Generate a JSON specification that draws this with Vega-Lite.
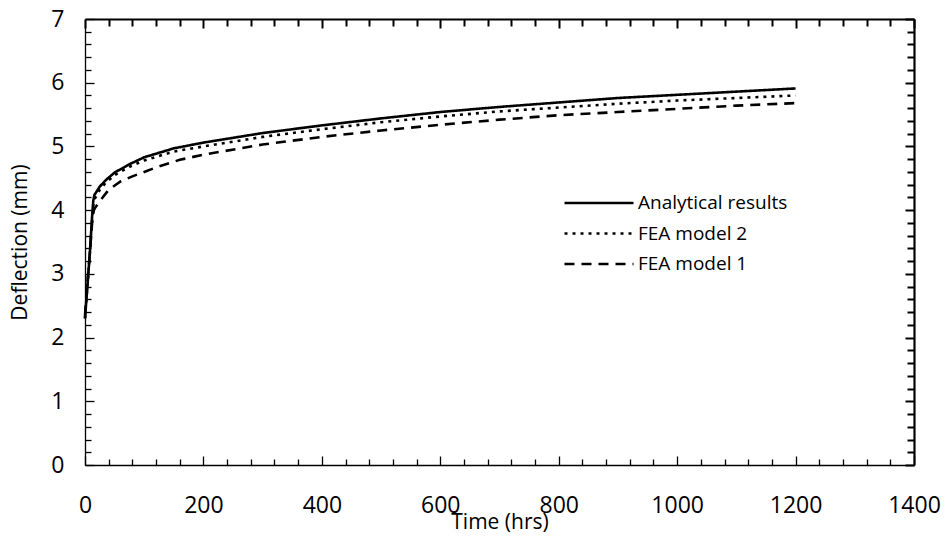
{
  "$schema": "https://vega.github.io/schema/vega-lite/v6.json",
  "autosize": {"type": "none"},
  "padding": {"left": 85, "top": 19, "right": 33, "bottom": 79},
  "width": 829,
  "height": 446,
  "background": "white",
  "config": {
    "view": {"stroke": null},
    "font": "Open Sans",
    "axis": {"grid": false, "domainColor": "black", "tickColor": "black", "labelColor": "black", "titleColor": "black", "labelFont": "Open Sans", "titleFont": "Open Sans", "titleFontWeight": "normal"}
  },
  "data": {"values": [
    {"series": "Analytical results", "t": 0, "v": 2.3},
    {"series": "Analytical results", "t": 4, "v": 2.8},
    {"series": "Analytical results", "t": 8, "v": 3.3},
    {"series": "Analytical results", "t": 12, "v": 3.9},
    {"series": "Analytical results", "t": 14, "v": 4.15},
    {"series": "Analytical results", "t": 16, "v": 4.24},
    {"series": "Analytical results", "t": 25, "v": 4.37},
    {"series": "Analytical results", "t": 35, "v": 4.47},
    {"series": "Analytical results", "t": 50, "v": 4.59},
    {"series": "Analytical results", "t": 75, "v": 4.72},
    {"series": "Analytical results", "t": 100, "v": 4.83},
    {"series": "Analytical results", "t": 150, "v": 4.97},
    {"series": "Analytical results", "t": 200, "v": 5.06},
    {"series": "Analytical results", "t": 300, "v": 5.21},
    {"series": "Analytical results", "t": 400, "v": 5.33},
    {"series": "Analytical results", "t": 500, "v": 5.44},
    {"series": "Analytical results", "t": 600, "v": 5.54},
    {"series": "Analytical results", "t": 700, "v": 5.62},
    {"series": "Analytical results", "t": 800, "v": 5.69},
    {"series": "Analytical results", "t": 900, "v": 5.76},
    {"series": "Analytical results", "t": 1000, "v": 5.81},
    {"series": "Analytical results", "t": 1100, "v": 5.86},
    {"series": "Analytical results", "t": 1200, "v": 5.91},
    {"series": "FEA model 2", "t": 0, "v": 2.3},
    {"series": "FEA model 2", "t": 4, "v": 2.8},
    {"series": "FEA model 2", "t": 8, "v": 3.3},
    {"series": "FEA model 2", "t": 12, "v": 3.85},
    {"series": "FEA model 2", "t": 14, "v": 4.08},
    {"series": "FEA model 2", "t": 16, "v": 4.17},
    {"series": "FEA model 2", "t": 25, "v": 4.32},
    {"series": "FEA model 2", "t": 35, "v": 4.43},
    {"series": "FEA model 2", "t": 50, "v": 4.55},
    {"series": "FEA model 2", "t": 75, "v": 4.68},
    {"series": "FEA model 2", "t": 100, "v": 4.78},
    {"series": "FEA model 2", "t": 150, "v": 4.92},
    {"series": "FEA model 2", "t": 200, "v": 5.0},
    {"series": "FEA model 2", "t": 300, "v": 5.15},
    {"series": "FEA model 2", "t": 400, "v": 5.27},
    {"series": "FEA model 2", "t": 500, "v": 5.38},
    {"series": "FEA model 2", "t": 600, "v": 5.47},
    {"series": "FEA model 2", "t": 700, "v": 5.55},
    {"series": "FEA model 2", "t": 800, "v": 5.61},
    {"series": "FEA model 2", "t": 900, "v": 5.67},
    {"series": "FEA model 2", "t": 1000, "v": 5.72},
    {"series": "FEA model 2", "t": 1100, "v": 5.76},
    {"series": "FEA model 2", "t": 1200, "v": 5.8},
    {"series": "FEA model 1", "t": 0, "v": 2.35},
    {"series": "FEA model 1", "t": 4, "v": 2.85},
    {"series": "FEA model 1", "t": 8, "v": 3.3},
    {"series": "FEA model 1", "t": 12, "v": 3.8},
    {"series": "FEA model 1", "t": 15, "v": 4.0},
    {"series": "FEA model 1", "t": 18, "v": 4.05},
    {"series": "FEA model 1", "t": 25, "v": 4.14},
    {"series": "FEA model 1", "t": 40, "v": 4.32},
    {"series": "FEA model 1", "t": 60, "v": 4.45},
    {"series": "FEA model 1", "t": 80, "v": 4.53},
    {"series": "FEA model 1", "t": 100, "v": 4.6},
    {"series": "FEA model 1", "t": 120, "v": 4.67},
    {"series": "FEA model 1", "t": 160, "v": 4.79},
    {"series": "FEA model 1", "t": 200, "v": 4.87},
    {"series": "FEA model 1", "t": 300, "v": 5.03},
    {"series": "FEA model 1", "t": 400, "v": 5.15},
    {"series": "FEA model 1", "t": 500, "v": 5.25},
    {"series": "FEA model 1", "t": 600, "v": 5.34},
    {"series": "FEA model 1", "t": 700, "v": 5.42},
    {"series": "FEA model 1", "t": 800, "v": 5.49},
    {"series": "FEA model 1", "t": 900, "v": 5.54},
    {"series": "FEA model 1", "t": 1000, "v": 5.59},
    {"series": "FEA model 1", "t": 1100, "v": 5.64},
    {"series": "FEA model 1", "t": 1200, "v": 5.68}
  ]},
  "layer": [
    {
      "mark": {"type": "line", "stroke": "black", "strokeWidth": 2.6, "strokeCap": "butt"},
      "encoding": {
        "x": {"field": "t", "type": "quantitative",
          "scale": {"domain": [0, 1400], "nice": false, "zero": false},
          "axis": {"orient": "bottom", "title": "Time (hrs)", "titleFontSize": 21, "titlePadding": -9,
            "values": [0,40,80,120,160,200,240,280,320,360,400,440,480,520,560,600,640,680,720,760,800,840,880,920,960,1000,1040,1080,1120,1160,1200,1240,1280,1320,1360,1400],
            "labelExpr": "datum.value % 200 === 0 ? format(datum.value, 'd') : ''",
            "labelFontSize": 23, "labelPadding": 38, "labelFlush": false, "labelOverlap": false,
            "tickSize": {"condition": {"test": "datum.value % 200 === 0", "value": -9}, "value": -6},
            "tickWidth": 1.3, "domainWidth": 1.3}},
        "y": {"field": "v", "type": "quantitative",
          "scale": {"domain": [0, 7], "nice": false, "zero": false},
          "axis": {"orient": "left", "title": "Deflection (mm)", "titleFontSize": 21, "titlePadding": 20,
            "values": [0,0.2,0.4,0.6,0.8,1,1.2,1.4,1.6,1.8,2,2.2,2.4,2.6,2.8,3,3.2,3.4,3.6,3.8,4,4.2,4.4,4.6,4.8,5,5.2,5.4,5.6,5.8,6,6.2,6.4,6.6,6.8,7],
            "labelExpr": "abs(datum.value - round(datum.value)) < 0.01 ? format(round(datum.value), 'd') : ''",
            "labelFontSize": 23, "labelPadding": 30, "labelFlush": false, "labelOverlap": false,
            "tickSize": {"condition": {"test": "abs(datum.value - round(datum.value)) < 0.01", "value": -9}, "value": -6},
            "tickWidth": 1.3, "domainWidth": 1.3}},
        "strokeDash": {"field": "series", "type": "nominal",
          "scale": {"domain": ["Analytical results", "FEA model 2", "FEA model 1"], "range": [[1, 0], [3, 5], [10, 7]]},
          "legend": {"title": null, "orient": "none", "legendX": 501, "legendY": 171, "padding": 0,
            "symbolType": "M-3,0H3", "symbolSize": 529, "symbolStrokeWidth": 2.6, "symbolStrokeColor": "black", "symbolFillColor": "transparent",
            "labelFontSize": 19, "labelFont": "Open Sans", "labelColor": "black", "labelOffset": 26, "rowPadding": 7.5}}
      }
    },
    {
      "mark": {"type": "line", "opacity": 0},
      "encoding": {
        "x": {"field": "t", "type": "quantitative",
          "axis": {"orient": "top", "title": null, "labels": false,
            "values": [0,40,80,120,160,200,240,280,320,360,400,440,480,520,560,600,640,680,720,760,800,840,880,920,960,1000,1040,1080,1120,1160,1200,1240,1280,1320,1360,1400],
            "tickSize": {"condition": {"test": "datum.value % 200 === 0", "value": -9}, "value": -7},
            "tickWidth": 2, "domainWidth": 2.2}},
        "y": {"field": "v", "type": "quantitative",
          "axis": {"orient": "right", "title": null, "labels": false,
            "values": [0,0.2,0.4,0.6,0.8,1,1.2,1.4,1.6,1.8,2,2.2,2.4,2.6,2.8,3,3.2,3.4,3.6,3.8,4,4.2,4.4,4.6,4.8,5,5.2,5.4,5.6,5.8,6,6.2,6.4,6.6,6.8,7],
            "tickSize": {"condition": {"test": "abs(datum.value - round(datum.value)) < 0.01", "value": -9}, "value": -7},
            "tickWidth": 2, "domainWidth": 2.2}}
      }
    }
  ],
  "resolve": {"axis": {"x": "independent", "y": "independent"}}
}
